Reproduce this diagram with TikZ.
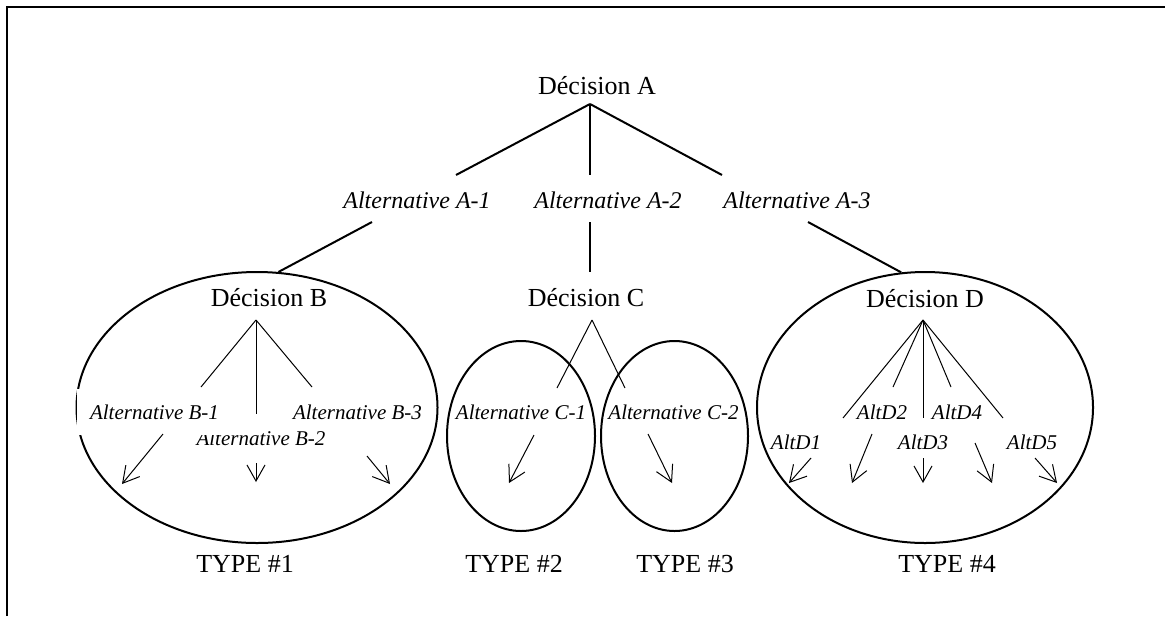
\documentclass[tikz,border=0pt]{standalone}
\usepackage{fontspec}
\setmainfont{Liberation Serif}
\usetikzlibrary{arrows.meta}
\usetikzlibrary{calc}
\usetikzlibrary{shapes.geometric}

\begin{document}
\begin{tikzpicture}[
    x=0.5pt, y=-0.5pt,
    decision/.style={inner sep=0pt, font=\fontsize{13}{15}\selectfont},
    typelabel/.style={inner sep=0pt, font=\fontsize{13}{15}\selectfont},
    altA/.style={inner sep=0pt, font=\fontsize{12}{14}\selectfont\itshape},
    alt/.style={inner sep=0pt, font=\fontsize{10.5}{12}\selectfont\itshape},
    altbox/.style={alt, fill=white, inner xsep=6.5pt, inner ysep=7.6pt},
    typeellipse/.style={ellipse, draw=black, line width=1pt, inner sep=0pt},
    branch/.style={line width=1pt},
    subbranch/.style={line width=0.5pt},
    altarrow/.style={subbranch, -{Straight Barb[length=8pt, width=9pt]}},
]
    \useasboundingbox (0,0) rectangle (1165,616);
    \draw[branch] (7,616) -- (7,7) -- (1165,7);

    % groups
    \node[typeellipse, minimum width=180.5pt, minimum height=135.5pt] (EB) at (257,407.5) {};
    \node[typeellipse, minimum width=74pt, minimum height=95pt] (EC1) at (521,436) {};
    \node[typeellipse, minimum width=73.5pt, minimum height=95pt] (EC2) at (674.5,436) {};
    \node[typeellipse, minimum width=168pt, minimum height=135.5pt] (ED) at (925,407.5) {};

    \node[decision] (DA) at (597,86) {Décision A};
    \node[altA] (AA1) at (417,200) {Alternative A-1};
    \node[altA] (AA2) at (608,200) {Alternative A-2};
    \node[altA] (AA3) at (797,200) {Alternative A-3};

    \node[decision] (DB) at (269,298) {Décision B};
    \node[altbox] (AB2) at (261,438) {Alternative B-2};
    \node[alt, fill=white, inner sep=1.5pt] (AB3) at (357.5,412) {Alternative B-3};
    \node[altbox] (AB1) at (154.5,412) {Alternative B-1};

    \node[decision] (DC) at (586,298) {Décision C};
    \node[alt] (AC1) at (521,412) {Alternative C-1};
    \node[alt] (AC2) at (673.5,412) {Alternative C-2};

    \node[decision] (DD) at (925,299) {Décision D};
    \node[alt] (AD1) at (796,442) {AltD1};
    \node[alt] (AD2) at (882,412) {AltD2};
    \node[alt] (AD3) at (923,442) {AltD3};
    \node[alt] (AD4) at (957,412) {AltD4};
    \node[alt] (AD5) at (1032,442) {AltD5};

    \node[typelabel] (T1) at (245,564) {TYPE \#1};
    \node[typelabel] (T2) at (514,564) {TYPE \#2};
    \node[typelabel] (T3) at (685,564) {TYPE \#3};
    \node[typelabel] (T4) at (947,564) {TYPE \#4};

    \draw[branch] ($(DA)+(-7,18)$) -- ($(AA1)+(39,-25)$);
    \draw[branch] ($(DA)+(-7,18)$) -- ($(AA2)+(-18,-25)$);
    \draw[branch] ($(DA)+(-7,18)$) -- ($(AA3)+(-75,-25)$);

    \draw[branch] ($(AA1)+(-45,22)$) -- (EB.81);
    \draw[branch] ($(AA2)+(-18,22)$) -- ($(DC)+(4,-26)$);
    \draw[branch] ($(AA3)+(11,22)$) -- (ED.100);

    \draw[subbranch] ($(DB)+(-13,22)$) -- ($(AB1)+(46.5,-25)$);
    \draw[subbranch] ($(DB)+(-13,22)$) -- ($(AB2)+(-5,-24)$);
    \draw[subbranch] ($(DB)+(-13,22)$) -- ($(AB3)+(-45.5,-25)$);

    \draw[altarrow] ($(AB1)+(8.5,22)$) -- ++(-41,50);
    \draw[altarrow] ($(AB2)+(-5,25)$) -- ++(0,19);
    \draw[altarrow] ($(AB3)+(9.5,44)$) -- ++(23,28);

    \draw[subbranch] ($(DC)+(6,22)$) -- ($(AC1)+(36,-24)$);
    \draw[subbranch] ($(DC)+(6,22)$) -- ($(AC2)+(-48.5,-24)$);

    \draw[altarrow] ($(AC1)+(13,23)$) -- ++(-25,48);
    \draw[altarrow] ($(AC2)+(-25.5,22)$) -- ++(24,49);

    \draw[subbranch] ($(DD)+(-2,21)$) -- ($(AD1)+(47,-24)$);
    \draw[subbranch] ($(DD)+(-2,21)$) -- ($(AD2)+(11,-25)$);
    \draw[subbranch] ($(DD)+(-2,21)$) -- ($(AD3)+(0,-24)$);
    \draw[subbranch] ($(DD)+(-2,21)$) -- ($(AD4)+(-6,-25)$);
    \draw[subbranch] ($(DD)+(-2,21)$) -- ($(AD5)+(-29,-24)$);

    \draw[altarrow] ($(AD1)+(15,16)$) -- ++(-22,25);
    \draw[altarrow] ($(AD2)+(-10,22)$) -- ++(-20,49);
    \draw[altarrow] ($(AD3)+(0,16)$) -- ++(0,25);
    \draw[altarrow] ($(AD4)+(18,31)$) -- ++(17,40);
    \draw[altarrow] ($(AD5)+(3,16)$) -- ++(22,25);
\end{tikzpicture}
\end{document}
